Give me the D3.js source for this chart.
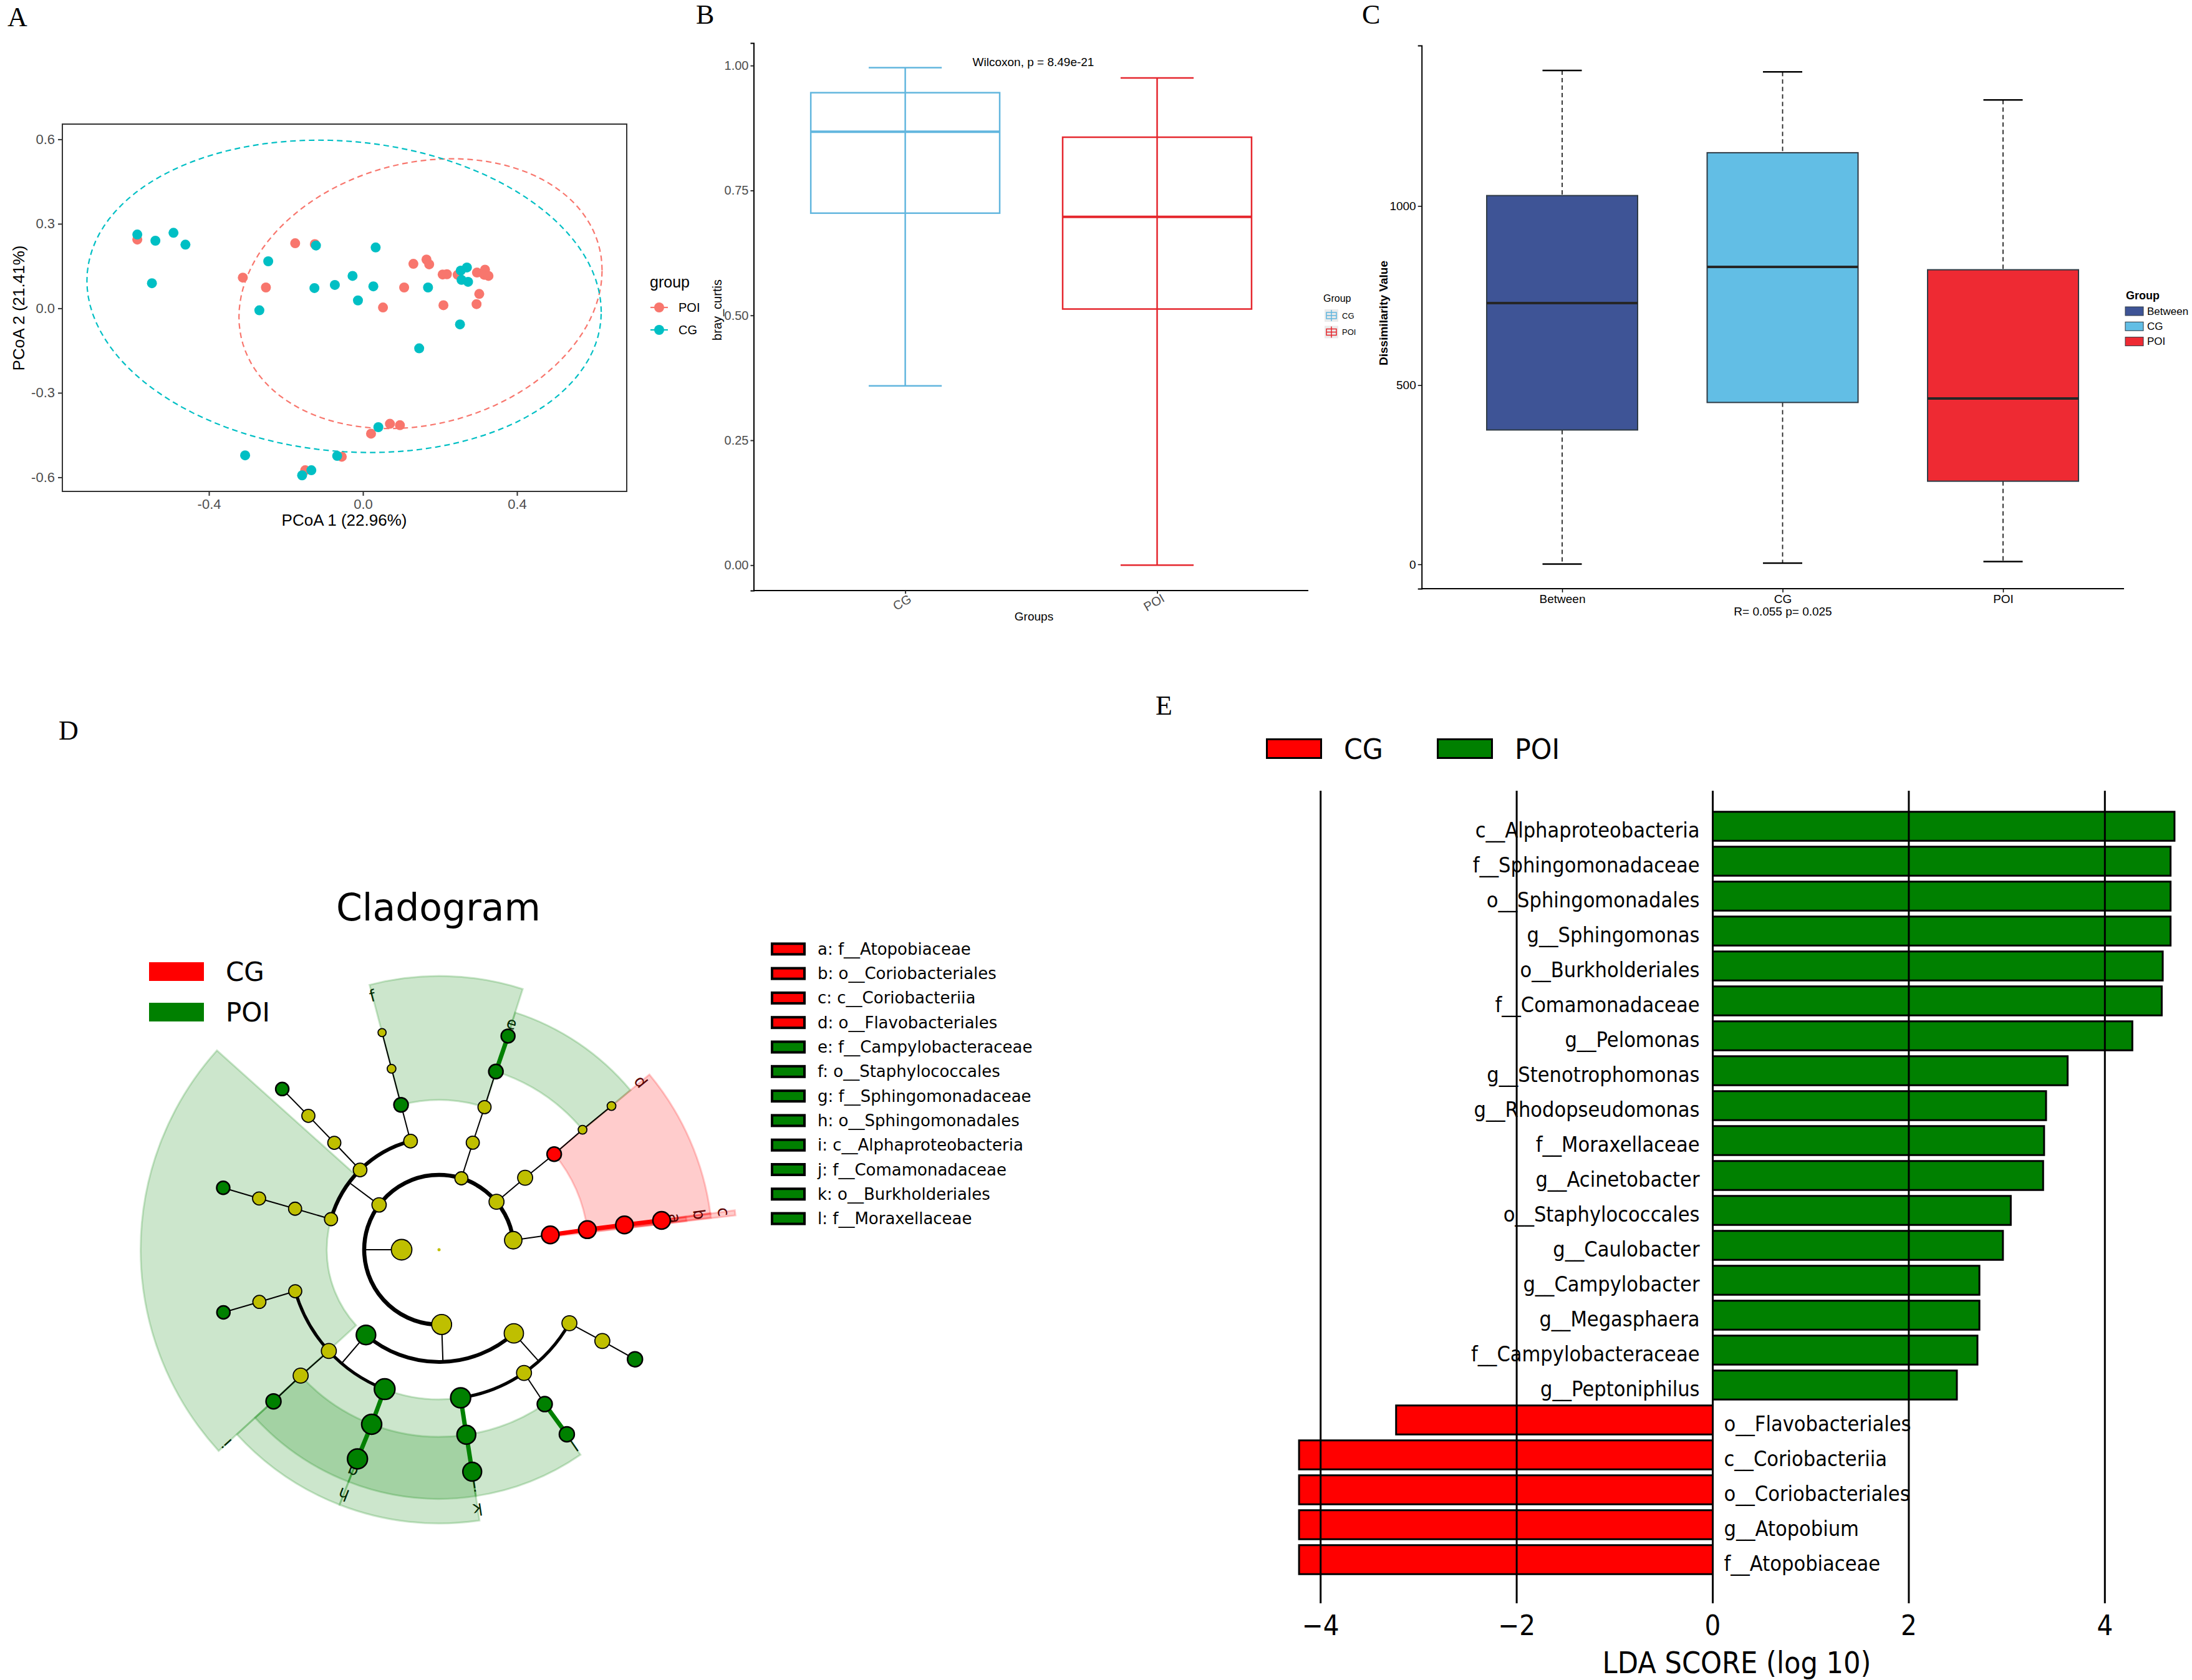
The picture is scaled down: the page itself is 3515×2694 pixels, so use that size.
<!DOCTYPE html>
<html>
<head>
<meta charset="utf-8">
<script src="https://cdn.jsdelivr.net/npm/d3@7"></script>
<style>
  body { margin: 0; background: #fff; }
  svg { display: block; }
</style>
</head>
<body>
<div id="fig"></div>
<script>
// ---------------- data ----------------
// A: PCoA coordinates (PCoA1, PCoA2)
const pcoaCG = [[-0.586,0.262],[-0.539,0.240],[-0.492,0.268],[-0.461,0.226],[-0.548,0.089],[-0.246,0.167],
  [-0.269,-0.007],[-0.122,0.223],[-0.126,0.072],[-0.073,0.083],[-0.027,0.115],[-0.013,0.028],[0.027,0.078],
  [0.033,0.216],[0.169,0.074],[0.254,0.134],[0.270,0.145],[0.256,0.101],[0.273,0.094],[0.252,-0.057],
  [0.146,-0.142],[0.040,-0.422],[-0.306,-0.522],[-0.067,-0.524],[-0.134,-0.575],[-0.158,-0.593]];
const pcoaPOI = [[-0.586,0.244],[-0.312,0.109],[-0.252,0.074],[-0.176,0.231],[-0.125,0.228],[0.052,0.003],
  [0.107,0.074],[0.131,0.158],[0.165,0.173],[0.172,0.156],[0.207,0.120],[0.218,0.121],[0.246,0.119],
  [0.209,0.011],[0.296,0.127],[0.317,0.137],[0.315,0.119],[0.326,0.115],[0.302,0.051],[0.295,0.015],
  [0.070,-0.410],[0.096,-0.415],[0.021,-0.445],[-0.055,-0.527],[-0.150,-0.575]];
// confidence ellipses: centre and covariance-like shape
const ellipseCG  = {cx: -0.049, cy: 0.0425, sxx: 0.446,  syy: 0.3075, sxy: -0.037};
const ellipsePOI = {cx: 0.1495, cy: 0.052,  sxx: 0.2223, syy: 0.2294, sxy: 0.039};
const pcoaXTicks = [-0.4, 0, 0.4];
const pcoaYTicks = [-0.6, -0.3, 0, 0.3, 0.6];

// B: bray-curtis boxplot
const brayGroups = ["CG", "POI"];
const brayStats = [
  {group: "CG",  min: 0.359, q1: 0.7046, med: 0.8677, q3: 0.9457, max: 0.9959},
  {group: "POI", min: 0.0,   q1: 0.5127, med: 0.6973, q3: 0.8566, max: 0.9752}
];
const brayTicks = [0, 0.25, 0.5, 0.75, 1.0];

// C: dissimilarity (ANOSIM) boxplot
const anosimGroups = ["Between", "CG", "POI"];
const anosimStats = [
  {group: "Between", min: 1,   q1: 375,   med: 729, q3: 1029,   max: 1378},
  {group: "CG",      min: 3.5, q1: 451.7, med: 830, q3: 1148.6, max: 1374},
  {group: "POI",     min: 8,   q1: 232,   med: 463, q3: 822,    max: 1296}
];
const anosimTicks = [0, 500, 1000];

// D: cladogram nodes (level = taxonomic depth, angle in degrees clockwise from 3 o'clock)
const cladeNodes = [
  {id:"root", parent:null, level:0, angle:0, size:2.5},
  {id:"k__Bacteria", parent:"root", level:1, angle:180, size:16.5},
  {id:"p1", parent:"k__Bacteria", level:2, angle:352.7, size:14},
  {id:"c", parent:"p1", level:3, angle:352.4, size:14, cls:"CG"},
  {id:"b", parent:"c", level:4, angle:352.3, size:14, cls:"CG"},
  {id:"a", parent:"b", level:5, angle:352.4, size:14, cls:"CG"},
  {id:"g__Atopobium", parent:"a", level:6, angle:352.5, size:14, cls:"CG"},
  {id:"p2", parent:"k__Bacteria", level:2, angle:320.2, size:12},
  {id:"p2c", parent:"p2", level:3, angle:320.1, size:12},
  {id:"d", parent:"p2c", level:4, angle:320.3, size:11.5, cls:"CG"},
  {id:"p2f", parent:"d", level:5, angle:320.1, size:7},
  {id:"p2g", parent:"p2f", level:6, angle:320.2, size:7},
  {id:"p3", parent:"k__Bacteria", level:2, angle:287.4, size:10.5},
  {id:"p3c", parent:"p3", level:3, angle:287.5, size:10.5},
  {id:"p3o", parent:"p3c", level:4, angle:287.7, size:10.5},
  {id:"e", parent:"p3o", level:5, angle:287.7, size:11.5, cls:"POI"},
  {id:"g__Campylobacter", parent:"e", level:6, angle:287.9, size:11, cls:"POI"},
  {id:"p4", parent:"k__Bacteria", level:2, angle:216.8, size:11.5},
  {id:"p4c1", parent:"p4", level:3, angle:195.8, size:10.5},
  {id:"p4o1", parent:"p4c1", level:4, angle:195.9, size:10.5},
  {id:"p4f1", parent:"p4o1", level:5, angle:195.9, size:10.5},
  {id:"p4g1", parent:"p4f1", level:6, angle:196.0, size:10.5, cls:"POI"},
  {id:"p4c2", parent:"p4", level:3, angle:225.3, size:11},
  {id:"p4o2", parent:"p4c2", level:4, angle:225.6, size:10.5},
  {id:"p4f2", parent:"p4o2", level:5, angle:225.7, size:10.5},
  {id:"p4g2", parent:"p4f2", level:6, angle:225.7, size:10.5, cls:"POI"},
  {id:"p4c3", parent:"p4", level:3, angle:255.3, size:11},
  {id:"f", parent:"p4c3", level:4, angle:255.3, size:11.5, cls:"POI"},
  {id:"p4f3", parent:"f", level:5, angle:255.3, size:7},
  {id:"p4g3", parent:"p4f3", level:6, angle:255.3, size:6.5},
  {id:"p6", parent:"k__Bacteria", level:2, angle:88, size:16},
  {id:"i", parent:"p6", level:3, angle:130.6, size:15.5, cls:"POI"},
  {id:"io1", parent:"i", level:4, angle:163.9, size:10.5},
  {id:"if1", parent:"io1", level:5, angle:163.8, size:10.5},
  {id:"ig1", parent:"if1", level:6, angle:163.8, size:10.5, cls:"POI"},
  {id:"io2", parent:"i", level:4, angle:137.4, size:12},
  {id:"if2", parent:"io2", level:5, angle:137.7, size:12},
  {id:"ig2", parent:"if2", level:6, angle:137.5, size:12, cls:"POI"},
  {id:"h", parent:"i", level:4, angle:111.3, size:16.5, cls:"POI"},
  {id:"g", parent:"h", level:5, angle:111.1, size:16, cls:"POI"},
  {id:"g__Sphingomonas", parent:"g", level:6, angle:111.3, size:16, cls:"POI"},
  {id:"p6c2", parent:"p6", level:3, angle:48.2, size:15.5},
  {id:"k", parent:"p6c2", level:4, angle:81.7, size:16, cls:"POI"},
  {id:"j", parent:"k", level:5, angle:81.6, size:15, cls:"POI"},
  {id:"g__Pelomonas", parent:"j", level:6, angle:81.5, size:15, cls:"POI"},
  {id:"p6o2", parent:"p6c2", level:4, angle:55.4, size:12},
  {id:"l", parent:"p6o2", level:5, angle:55.6, size:12, cls:"POI"},
  {id:"g__Acinetobacter", parent:"l", level:6, angle:55.3, size:12, cls:"POI"},
  {id:"p6o3", parent:"p6c2", level:4, angle:29.4, size:12},
  {id:"p6f3", parent:"p6o3", level:5, angle:29.2, size:12},
  {id:"g__Stenotrophomonas", parent:"p6f3", level:6, angle:29.2, size:12, cls:"POI"}
];
// shaded clades (angles in degrees)
const cladeSectors = [
  {label:"a", cls:"CG",  level:5, start:352.4, end:353.4},
  {label:"b", cls:"CG",  level:4, start:352.3, end:353.3},
  {label:"c", cls:"CG",  level:3, start:352.4, end:353.4},
  {label:"d", cls:"CG",  level:4, start:320.2, end:352.5},
  {label:"e", cls:"POI", level:5, start:287.8, end:320.2},
  {label:"f", cls:"POI", level:4, start:255.3, end:287.8},
  {label:"g", cls:"POI", level:5, start:111.3, end:137.6},
  {label:"h", cls:"POI", level:4, start:111.3, end:137.6},
  {label:"i", cls:"POI", level:3, start:137.6, end:221.9},
  {label:"j", cls:"POI", level:5, start:81.5,  end:111.3},
  {label:"k", cls:"POI", level:4, start:81.5,  end:111.3},
  {label:"l", cls:"POI", level:5, start:55.4,  end:81.5}
];
const cladeLegend = ["a: f__Atopobiaceae","b: o__Coriobacteriales","c: c__Coriobacteriia","d: o__Flavobacteriales",
  "e: f__Campylobacteraceae","f: o__Staphylococcales","g: f__Sphingomonadaceae","h: o__Sphingomonadales",
  "i: c__Alphaproteobacteria","j: f__Comamonadaceae","k: o__Burkholderiales","l: f__Moraxellaceae"];
const cladeLegendClass = ["CG","CG","CG","CG","POI","POI","POI","POI","POI","POI","POI","POI"];

// E: LDA scores
const ldaTaxa = ["c__Alphaproteobacteria","f__Sphingomonadaceae","o__Sphingomonadales","g__Sphingomonas",
  "o__Burkholderiales","f__Comamonadaceae","g__Pelomonas","g__Stenotrophomonas","g__Rhodopseudomonas",
  "f__Moraxellaceae","g__Acinetobacter","o__Staphylococcales","g__Caulobacter","g__Campylobacter",
  "g__Megasphaera","f__Campylobacteraceae","g__Peptoniphilus","o__Flavobacteriales","c__Coriobacteriia",
  "o__Coriobacteriales","g__Atopobium","f__Atopobiaceae"];
const ldaScores = [4.71,4.67,4.67,4.67,4.59,4.58,4.28,3.62,3.40,3.38,3.37,3.04,2.96,2.72,2.72,2.70,2.49,
  -3.23,-4.22,-4.22,-4.22,-4.22];
const ldaTicks = [-4, -2, 0, 2, 4];

// ---------------- setup ----------------
const W = 3515, H = 2694;
const SANS = "Arial, 'Liberation Sans', Helvetica, sans-serif";
const DJV = "'DejaVu Sans', Verdana, sans-serif";
const SERIF = "'Times New Roman', 'Liberation Serif', Times, serif";

const svg = d3.select("#fig").append("svg")
  .attr("width", W).attr("height", H)
  .attr("viewBox", `0 0 ${W} ${H}`);
svg.append("rect").attr("width", W).attr("height", H).attr("fill", "#fff");

// shrink text horizontally (the original figure is slightly condensed)
function squeeze(sel, k) {
  sel.each(function() {
    const w = this.getComputedTextLength();
    d3.select(this).attr("textLength", w * k).attr("lengthAdjust", "spacingAndGlyphs");
  });
}

// panel letters
const panelLetters = [["A", 12, 42], ["B", 1116, 38], ["C", 2184, 38], ["D", 94, 1186], ["E", 1853, 1146]];
svg.selectAll("text.panel").data(panelLetters).enter().append("text")
  .attr("class", "panel")
  .attr("x", d => d[1]).attr("y", d => d[2])
  .attr("font-family", SERIF).attr("font-size", 44)
  .text(d => d[0]);

// ---------------- A: PCoA ----------------
(function() {
  const colCG = "#00BFC4", colPOI = "#F8766D";
  const x = d3.scaleLinear().domain([-0.7806, 0.685]).range([100, 1005]);
  const y = d3.scaleLinear().domain([-0.650, 0.654]).range([788, 199]);
  const g = svg.append("g");

  const xAxis = g.append("g").attr("transform", "translate(0,788)")
    .call(d3.axisBottom(x).tickValues(pcoaXTicks).tickFormat(d => d.toFixed(1)).tickSize(7).tickPadding(5));
  const yAxis = g.append("g").attr("transform", "translate(100,0)")
    .call(d3.axisLeft(y).tickValues(pcoaYTicks).tickFormat(d => d.toFixed(1)).tickSize(7).tickPadding(5));
  [xAxis, yAxis].forEach(a => {
    a.select(".domain").remove();
    a.selectAll(".tick line").attr("stroke", "#333").attr("stroke-width", 2);
    a.selectAll(".tick text").attr("font-family", SANS).attr("font-size", 22).attr("fill", "#4D4D4D");
  });
  g.append("rect").attr("x", x.range()[0]).attr("y", y.range()[1])
    .attr("width", x.range()[1] - x.range()[0]).attr("height", y.range()[0] - y.range()[1])
    .attr("fill", "none").attr("stroke", "#333").attr("stroke-width", 2);

  // ellipses from covariance shape
  function ellipsePts(e) {
    const l11 = Math.sqrt(e.sxx), l21 = e.sxy / l11, l22 = Math.sqrt(e.syy - l21 * l21);
    return d3.range(0, 361, 3).map(t => {
      const a = t * Math.PI / 180;
      return [e.cx + l11 * Math.cos(a), e.cy + l21 * Math.cos(a) + l22 * Math.sin(a)];
    });
  }
  const line = d3.line().x(d => x(d[0])).y(d => y(d[1])).curve(d3.curveLinearClosed);
  [[ellipsePOI, colPOI], [ellipseCG, colCG]].forEach(([e, c]) => {
    g.append("path").attr("d", line(ellipsePts(e))).attr("fill", "none")
      .attr("stroke", c).attr("stroke-width", 2.2).attr("stroke-dasharray", "9,6");
  });

  g.selectAll("circle.poi").data(pcoaPOI).enter().append("circle")
    .attr("cx", d => x(d[0])).attr("cy", d => y(d[1])).attr("r", 8).attr("fill", colPOI);
  g.selectAll("circle.cg").data(pcoaCG).enter().append("circle")
    .attr("cx", d => x(d[0])).attr("cy", d => y(d[1])).attr("r", 8).attr("fill", colCG);

  g.append("text").attr("x", 552).attr("y", 834).attr("text-anchor", "middle")
    .attr("dominant-baseline", "central").attr("font-family", SANS).attr("font-size", 26)
    .text("PCoA 1 (22.96%)");
  g.append("text").attr("transform", "translate(30,494) rotate(-90)").attr("text-anchor", "middle")
    .attr("dominant-baseline", "central").attr("font-family", SANS).attr("font-size", 26)
    .text("PCoA 2 (21.41%)");

  // legend
  g.append("text").attr("x", 1042).attr("y", 461).attr("font-family", SANS).attr("font-size", 25).text("group");
  [["POI", colPOI, 493], ["CG", colCG, 529]].forEach(([lab, c, yy]) => {
    g.append("line").attr("x1", 1043).attr("x2", 1071).attr("y1", yy).attr("y2", yy)
      .attr("stroke", c).attr("stroke-width", 2.2);
    g.append("circle").attr("cx", 1057).attr("cy", yy).attr("r", 8).attr("fill", c);
    g.append("text").attr("x", 1088).attr("y", yy).attr("dominant-baseline", "central")
      .attr("font-family", SANS).attr("font-size", 20).text(lab);
  });
})();

// ---------------- B: bray-curtis boxplot ----------------
(function() {
  const colors = {CG: "#62B6DE", POI: "#E5262D"};
  const x = d3.scalePoint().domain(brayGroups).range([1451.6, 1855.5]);
  const y = d3.scaleLinear().domain([-0.0508, 1.0451]).range([947, 69]);
  const step = x(brayGroups[1]) - x(brayGroups[0]);
  const boxW = 0.75 * step, capW = 0.29 * step;
  const g = svg.append("g");

  const yAxis = g.append("g").attr("transform", "translate(1208.5,0)")
    .call(d3.axisLeft(y).tickValues(brayTicks).tickFormat(d3.format(".2f")).tickSize(5).tickPadding(3));
  yAxis.select(".domain").attr("stroke", "#000").attr("stroke-width", 2);
  yAxis.selectAll(".tick line").attr("stroke", "#333").attr("stroke-width", 2);
  yAxis.selectAll(".tick text").attr("font-family", SANS).attr("font-size", 20).attr("fill", "#4D4D4D");

  g.append("line").attr("x1", 1208.5).attr("x2", 2098).attr("y1", 947).attr("y2", 947)
    .attr("stroke", "#000").attr("stroke-width", 2);
  const xAxis = g.append("g").attr("transform", "translate(0,947)")
    .call(d3.axisBottom(x).tickSize(5).tickFormat(""));
  xAxis.select(".domain").remove();
  xAxis.selectAll(".tick line").attr("stroke", "#333").attr("stroke-width", 2);
  g.selectAll("text.xl").data(brayGroups).enter().append("text")
    .attr("transform", d => `translate(${x(d) - 5},966) rotate(-30)`)
    .attr("text-anchor", "middle").attr("dominant-baseline", "central")
    .attr("font-family", SANS).attr("font-size", 20).attr("fill", "#4D4D4D").text(d => d);

  brayStats.forEach(s => {
    const cx = x(s.group), c = colors[s.group];
    g.append("line").attr("x1", cx).attr("x2", cx).attr("y1", y(s.max)).attr("y2", y(s.min))
      .attr("stroke", c).attr("stroke-width", 2.5);
    [s.max, s.min].forEach(v => g.append("line").attr("x1", cx - capW / 2).attr("x2", cx + capW / 2)
      .attr("y1", y(v)).attr("y2", y(v)).attr("stroke", c).attr("stroke-width", 2.5));
    g.append("rect").attr("x", cx - boxW / 2).attr("width", boxW)
      .attr("y", y(s.q3)).attr("height", y(s.q1) - y(s.q3))
      .attr("fill", "none").attr("stroke", c).attr("stroke-width", 2.5);
    g.append("line").attr("x1", cx - boxW / 2).attr("x2", cx + boxW / 2).attr("y1", y(s.med)).attr("y2", y(s.med))
      .attr("stroke", c).attr("stroke-width", 4);
  });

  g.append("text").attr("x", 1657).attr("y", 99).attr("text-anchor", "middle").attr("dominant-baseline", "central")
    .attr("font-family", SANS).attr("font-size", 19).text("Wilcoxon, p = 8.49e-21");
  g.append("text").attr("x", 1658).attr("y", 988).attr("text-anchor", "middle").attr("dominant-baseline", "central")
    .attr("font-family", SANS).attr("font-size", 19).text("Groups");
  g.append("text").attr("transform", "translate(1150,497) rotate(-90)").attr("text-anchor", "middle")
    .attr("dominant-baseline", "central").attr("font-family", SANS).attr("font-size", 20).text("bray_curtis");

  // legend
  g.append("text").attr("x", 2122).attr("y", 478).attr("dominant-baseline", "central")
    .attr("font-family", SANS).attr("font-size", 16).text("Group");
  brayGroups.forEach((grp, k) => {
    const yy = 506 + k * 26.5, c = colors[grp];
    g.append("rect").attr("x", 2124).attr("y", yy - 10).attr("width", 22).attr("height", 20).attr("fill", "#EBEBEB");
    g.append("line").attr("x1", 2135).attr("x2", 2135).attr("y1", yy - 9).attr("y2", yy + 9).attr("stroke", c).attr("stroke-width", 1.5);
    g.append("rect").attr("x", 2127).attr("y", yy - 5).attr("width", 16).attr("height", 10)
      .attr("fill", "none").attr("stroke", c).attr("stroke-width", 1.5);
    g.append("line").attr("x1", 2127).attr("x2", 2143).attr("y1", yy).attr("y2", yy).attr("stroke", c).attr("stroke-width", 1.5);
    g.append("text").attr("x", 2152).attr("y", yy).attr("dominant-baseline", "central")
      .attr("font-family", SANS).attr("font-size", 13).text(grp);
  });
})();

// ---------------- C: dissimilarity boxplot ----------------
(function() {
  const fills = {Between: "#3E5496", CG: "#62BEE5", POI: "#EE2A33"};
  const x = d3.scalePoint().domain(anosimGroups).range([2505, 3212]);
  const y = d3.scaleLinear().domain([-67.9, 1447.7]).range([944, 73]);
  const boxW = 242, capW = 63;
  const g = svg.append("g");

  const yAxis = g.append("g").attr("transform", "translate(2279.7,0)")
    .call(d3.axisLeft(y).tickValues(anosimTicks).tickFormat(d3.format("d")).tickSize(6).tickPadding(3));
  yAxis.select(".domain").attr("stroke", "#000").attr("stroke-width", 2);
  yAxis.selectAll(".tick line").attr("stroke", "#000").attr("stroke-width", 1.5);
  yAxis.selectAll(".tick text").attr("font-family", SANS).attr("font-size", 19).attr("fill", "#000");

  g.append("line").attr("x1", 2279.7).attr("x2", 3406).attr("y1", 944).attr("y2", 944)
    .attr("stroke", "#000").attr("stroke-width", 2);
  const xAxis = g.append("g").attr("transform", "translate(0,944)")
    .call(d3.axisBottom(x).tickSize(6).tickPadding(4));
  xAxis.select(".domain").remove();
  xAxis.selectAll(".tick line").attr("stroke", "#000").attr("stroke-width", 1.5);
  xAxis.selectAll(".tick text").attr("font-family", SANS).attr("font-size", 19).attr("fill", "#000");

  anosimStats.forEach(s => {
    const cx = x(s.group);
    [[s.max, s.q3], [s.q1, s.min]].forEach(([a, b]) => g.append("line")
      .attr("x1", cx).attr("x2", cx).attr("y1", y(a)).attr("y2", y(b))
      .attr("stroke", "#222").attr("stroke-width", 1.8).attr("stroke-dasharray", "7,5"));
    [s.max, s.min].forEach(v => g.append("line").attr("x1", cx - capW / 2).attr("x2", cx + capW / 2)
      .attr("y1", y(v)).attr("y2", y(v)).attr("stroke", "#000").attr("stroke-width", 2.5));
    g.append("rect").attr("x", cx - boxW / 2).attr("width", boxW)
      .attr("y", y(s.q3)).attr("height", y(s.q1) - y(s.q3))
      .attr("fill", fills[s.group]).attr("stroke", "#2F3B45").attr("stroke-width", 2);
    g.append("line").attr("x1", cx - boxW / 2).attr("x2", cx + boxW / 2).attr("y1", y(s.med)).attr("y2", y(s.med))
      .attr("stroke", "#262626").attr("stroke-width", 4);
  });

  g.append("text").attr("x", 2859).attr("y", 980).attr("text-anchor", "middle").attr("dominant-baseline", "central")
    .attr("font-family", SANS).attr("font-size", 19).text("R= 0.055 p= 0.025");
  g.append("text").attr("transform", "translate(2218,502) rotate(-90)").attr("text-anchor", "middle")
    .attr("dominant-baseline", "central").attr("font-family", SANS).attr("font-weight", "bold")
    .attr("font-size", 19).text("Dissimilarity Value");

  g.append("text").attr("x", 3409).attr("y", 474).attr("dominant-baseline", "central")
    .attr("font-family", SANS).attr("font-weight", "bold").attr("font-size", 18).text("Group");
  anosimGroups.forEach((grp, k) => {
    const yy = 499 + k * 24.3;
    g.append("rect").attr("x", 3408).attr("y", yy - 7).attr("width", 29).attr("height", 14)
      .attr("fill", fills[grp]).attr("stroke", "#2F3B45").attr("stroke-width", 1);
    g.append("text").attr("x", 3443).attr("y", yy).attr("dominant-baseline", "central")
      .attr("font-family", SANS).attr("font-size", 17).text(grp);
  });
})();

// ---------------- D: cladogram ----------------
(function() {
  const clsColor = {CG: "#FF0000", POI: "#008000"};
  const labColor = {CG: "#5A0000", POI: "#002800"};
  const yellow = "#BFBF00";
  const center = [704, 2004];
  const rad = d3.scaleLinear().domain([0, 6]).range([0, 360]);
  const toRad = a => a * Math.PI / 180;
  const polar = (lv, a) => [center[0] + rad(lv) * Math.cos(toRad(a)), center[1] + rad(lv) * Math.sin(toRad(a))];
  const outerR = lv => rad(6) + 39.5 * (6 - lv);
  const g = svg.append("g");

  // title and legend
  g.append("text").attr("x", 703).attr("y", 1455).attr("text-anchor", "middle").attr("dominant-baseline", "central")
    .attr("font-family", DJV).attr("font-size", 60).text("Cladogram");
  [["CG", 1558], ["POI", 1623]].forEach(([lab, yy]) => {
    g.append("rect").attr("x", 239).attr("y", yy - 15).attr("width", 88).attr("height", 30).attr("fill", clsColor[lab]);
    g.append("text").attr("x", 362).attr("y", yy).attr("dominant-baseline", "central")
      .attr("font-family", DJV).attr("font-size", 42).text(lab);
  });

  // shaded clades
  const arcGen = d3.arc();
  const sec = g.append("g").attr("transform", `translate(${center[0]},${center[1]})`);
  cladeSectors.forEach(s => {
    sec.append("path").attr("d", arcGen({innerRadius: rad(s.level), outerRadius: outerR(s.level),
        startAngle: toRad(s.start + 90), endAngle: toRad(s.end + 90)}))
      .attr("fill", clsColor[s.cls]).attr("fill-opacity", 0.2)
      .attr("stroke", clsColor[s.cls]).attr("stroke-opacity", 0.2).attr("stroke-width", 3);
  });
  cladeSectors.forEach(s => {
    const r = outerR(s.level) - 18, a = toRad(s.start);
    const px = r * Math.cos(a), py = r * Math.sin(a);
    sec.append("text").attr("transform", `translate(${px},${py}) rotate(${s.start + 90})`)
      .attr("text-anchor", "middle").attr("dominant-baseline", "central")
      .attr("font-family", DJV).attr("font-size", 26).attr("fill", labColor[s.cls]).text(s.label);
  });

  // branches
  const byId = new Map(cladeNodes.map(d => [d.id, d]));
  const kids = d3.group(cladeNodes.filter(d => d.parent), d => d.parent);
  const arcW = {2: 6.5, 3: 6, 4: 5};
  const edges = g.append("g");
  kids.forEach((ch, pid) => {
    const p = byId.get(pid);
    if (p.level === 0) return;
    if (ch.length === 1) {
      const c = ch[0];
      const same = p.cls && c.cls && p.cls === c.cls;
      const [x1, y1] = polar(p.level, p.angle), [x2, y2] = polar(c.level, c.angle);
      edges.append("line").attr("x1", x1).attr("y1", y1).attr("x2", x2).attr("y2", y2)
        .attr("stroke", same ? clsColor[c.cls] : "#000").attr("stroke-width", same ? 7 : 2);
    } else {
      const lv = p.level + 1;
      const [x1, y1] = polar(p.level, p.angle), [x2, y2] = polar(lv, p.angle);
      edges.append("line").attr("x1", x1).attr("y1", y1).attr("x2", x2).attr("y2", y2)
        .attr("stroke", "#000").attr("stroke-width", 2);
      const angs = ch.map(c => c.angle).concat([p.angle]);
      const pth = d3.path();
      pth.arc(center[0], center[1], rad(lv), toRad(d3.min(angs)), toRad(d3.max(angs)));
      edges.append("path").attr("d", pth.toString()).attr("fill", "none")
        .attr("stroke", "#000").attr("stroke-width", arcW[lv]);
    }
  });

  // nodes
  g.selectAll("circle.node").data(cladeNodes).enter().append("circle")
    .attr("cx", d => polar(d.level, d.angle)[0]).attr("cy", d => polar(d.level, d.angle)[1])
    .attr("r", d => d.size)
    .attr("fill", d => d.cls ? clsColor[d.cls] : yellow)
    .attr("stroke", d => d.level === 0 ? "none" : "#000")
    .attr("stroke-width", d => d.cls ? 2.5 : 1.8);

  // right legend
  cladeLegend.forEach((lab, k) => {
    const yy = 1521.8 + k * 39.3;
    g.append("rect").attr("x", 1238).attr("y", yy - 8.5).attr("width", 52).attr("height", 17)
      .attr("fill", clsColor[cladeLegendClass[k]]).attr("stroke", "#000").attr("stroke-width", 4);
    g.append("text").attr("x", 1311).attr("y", yy).attr("dominant-baseline", "central")
      .attr("font-family", DJV).attr("font-size", 26).text(lab);
  });
})();

// ---------------- E: LDA bar chart ----------------
(function() {
  const x = d3.scaleLinear().domain([-4.25, 4.75]).range([2078.4, 3493.2]);
  const y = d3.scaleBand().domain(ldaTaxa).range([1297, 2529]).paddingInner(0.17).paddingOuter(0.085);
  const g = svg.append("g");
  const K = 0.9;

  // legend
  [["CG", "#FF0000", 2030], ["POI", "#008000", 2304]].forEach(([lab, c, x0]) => {
    g.append("rect").attr("x", x0 + 1.5).attr("y", 1185.5).attr("width", 87).attr("height", 30)
      .attr("fill", c).attr("stroke", "#000").attr("stroke-width", 3);
    const t = g.append("text").attr("x", x0 + 125).attr("y", 1201).attr("dominant-baseline", "central")
      .attr("font-family", DJV).attr("font-size", 45).text(lab);
    squeeze(t, 0.95);
  });

  const bars = ldaTaxa.map((t, k) => ({taxon: t, score: ldaScores[k]}));
  g.selectAll("rect.bar").data(bars).enter().append("rect")
    .attr("x", d => x(Math.min(0, d.score))).attr("width", d => Math.abs(x(d.score) - x(0)))
    .attr("y", d => y(d.taxon)).attr("height", y.bandwidth())
    .attr("fill", d => d.score > 0 ? "#008000" : "#FF0000")
    .attr("stroke", "#000").attr("stroke-width", 3);

  const labs = g.selectAll("text.lab").data(bars).enter().append("text")
    .attr("x", d => d.score > 0 ? x(0) - 21 : x(0) + 18)
    .attr("y", d => y(d.taxon) + y.bandwidth() / 2 + 6)
    .attr("text-anchor", d => d.score > 0 ? "end" : "start")
    .attr("dominant-baseline", "central")
    .attr("font-family", DJV).attr("font-size", 34).text(d => d.taxon);
  squeeze(labs, K);

  // vertical reference lines
  g.selectAll("line.v").data(ldaTicks).enter().append("line")
    .attr("x1", d => x(d)).attr("x2", d => x(d)).attr("y1", 1268).attr("y2", 2571)
    .attr("stroke", "#000").attr("stroke-width", 3);
  const ticks = g.selectAll("text.tk").data(ldaTicks).enter().append("text")
    .attr("x", d => x(d)).attr("y", 2606).attr("text-anchor", "middle").attr("dominant-baseline", "central")
    .attr("font-family", DJV).attr("font-size", 45).text(d => d < 0 ? "\u2212" + Math.abs(d) : d);
  squeeze(ticks, K);
  const xl = g.append("text").attr("x", 2785).attr("y", 2666).attr("text-anchor", "middle")
    .attr("dominant-baseline", "central").attr("font-family", DJV).attr("font-size", 48)
    .text("LDA SCORE (log 10)");
  squeeze(xl, K);
})();
</script>
</body>
</html>
